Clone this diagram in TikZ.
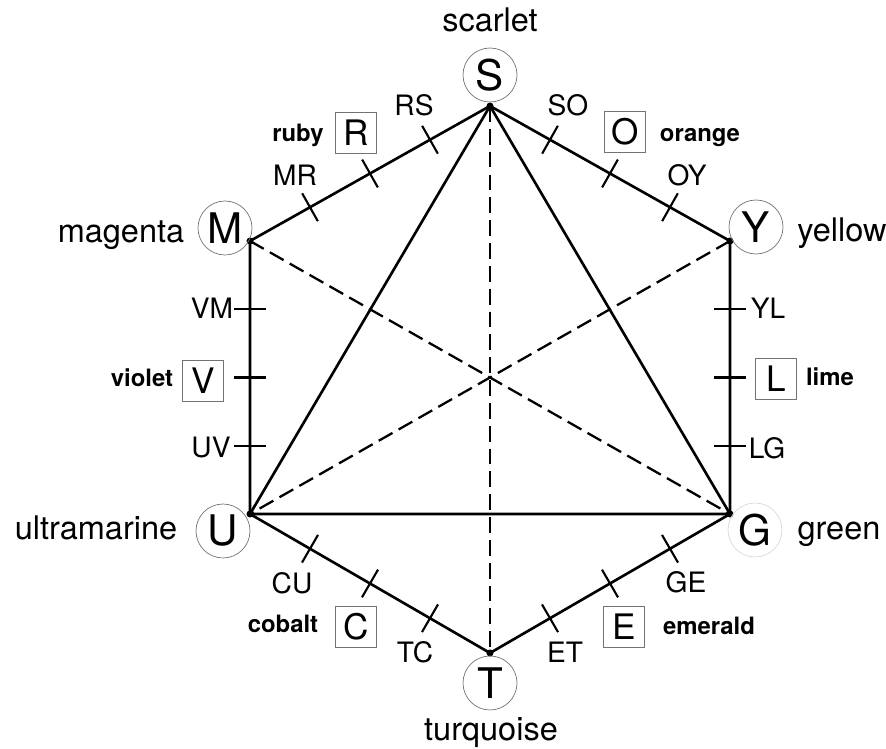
\documentclass[tikz,border=0pt]{standalone}
\usepackage{fontspec}
\setmainfont{TeX Gyre Heros}
\usetikzlibrary{calc}

\begin{document}
\begin{tikzpicture}[x=0.02cm, y=-0.02cm,
  edge/.style={black, line width=1.5pt},
  diag/.style={black, line width=1.3pt, dash pattern=on 9pt off 4pt},
  tickmark/.style={black, line width=1.2pt},
  hue/.style={circle, draw=black!55, line width=0.4pt, minimum size=1.08cm, inner sep=0pt, font=\fontsize{24}{28}\selectfont},
  mixbox/.style={rectangle, draw=black!55, line width=0.4pt, minimum size=0.82cm, inner sep=0pt, font=\fontsize{20}{24}\selectfont},
  huename/.style={anchor=mid, inner sep=0pt, font=\fontsize{18.5}{22}\selectfont},
  mixname/.style={anchor=mid, inner sep=0pt, font=\bfseries\fontsize{13.6}{16}\selectfont},
  pairlbl/.style={inner sep=0pt, font=\fontsize{16}{19}\selectfont}]
 \useasboundingbox (0,0) rectangle (886,749);

 \coordinate (S) at (490,106);
 \coordinate (Y) at (730,241);
 \coordinate (G) at (730,514);
 \coordinate (T) at (490,653);
 \coordinate (U) at (250,514);
 \coordinate (M) at (250,241);

 \draw[edge] (S) -- (Y) -- (G) -- (T) -- (U) -- (M) -- cycle;
 \draw[edge] (S) -- (U) -- (G) -- cycle;
 \draw[diag] (S) -- (T);
 \draw[diag] (M) -- (G);
 \draw[diag] (Y) -- (U);

 \foreach \a/\b in {S/M,M/U,U/T,T/G,G/Y,Y/S}
  \foreach \f in {0.25,0.5,0.75}
   \draw[tickmark] ($(\a)!\f!(\b)!0.32cm!90:(\b)$) -- ($(\a)!\f!(\b)!0.32cm!-90:(\b)$);

 \foreach \v in {S,Y,G,T,U,M}
  \fill (\v) circle (2pt);

 \node[hue] (cS) at (490,75) {S};
 \node[hue] (cY) at (756,227) {Y};
 \node[hue, draw=black!15] (cG) at (755,530) {G};
 \node[hue] (cT) at (490,683) {T};
 \node[hue] (cU) at (223,531) {U};
 \node[hue] (cM) at (225,228) {M};

 \node[huename] (nS) at (490,27) {scarlet};
 \node[huename] (nY) at (842,237) {yellow};
 \node[huename] (nG) at (839,535) {green};
 \node[huename] (nT) at (491,736) {turquoise};
 \node[huename] (nU) at (96,535) {ultramarine};
 \node[huename] (nM) at (121,238) {magenta};

 \node[mixbox] (bR) at (356,133) {R};
 \node[mixbox] (bO) at (625,132) {O};
 \node[mixbox] (bL) at (776,379) {L};
 \node[mixbox] (bE) at (624,627) {E};
 \node[mixbox] (bC) at (356,627) {C};
 \node[mixbox] (bV) at (203,381) {V};

 \node[mixname] (nR) at (298,137) {ruby};
 \node[mixname] (nO) at (700,137) {orange};
 \node[mixname] (nL) at (830,381) {lime};
 \node[mixname] (nE) at (709,630) {emerald};
 \node[mixname] (nC) at (283,628) {cobalt};
 \node[mixname] (nV) at (142,382) {violet};

 \node[pairlbl] (lRS) at (414,105) {RS};
 \node[pairlbl] (lSO) at (568,105) {SO};
 \node[pairlbl] (lMR) at (295,175) {MR};
 \node[pairlbl] (lOY) at (687,175) {OY};
 \node[pairlbl] (lVM) at (212,308) {VM};
 \node[pairlbl] (lYL) at (768,308) {YL};
 \node[pairlbl] (lUV) at (211,448) {UV};
 \node[pairlbl] (lLG) at (767,448) {LG};
 \node[pairlbl] (lCU) at (292,583) {CU};
 \node[pairlbl] (lGE) at (686,582) {GE};
 \node[pairlbl] (lTC) at (415,652) {TC};
 \node[pairlbl] (lET) at (565,652) {ET};
\end{tikzpicture}
\end{document}
